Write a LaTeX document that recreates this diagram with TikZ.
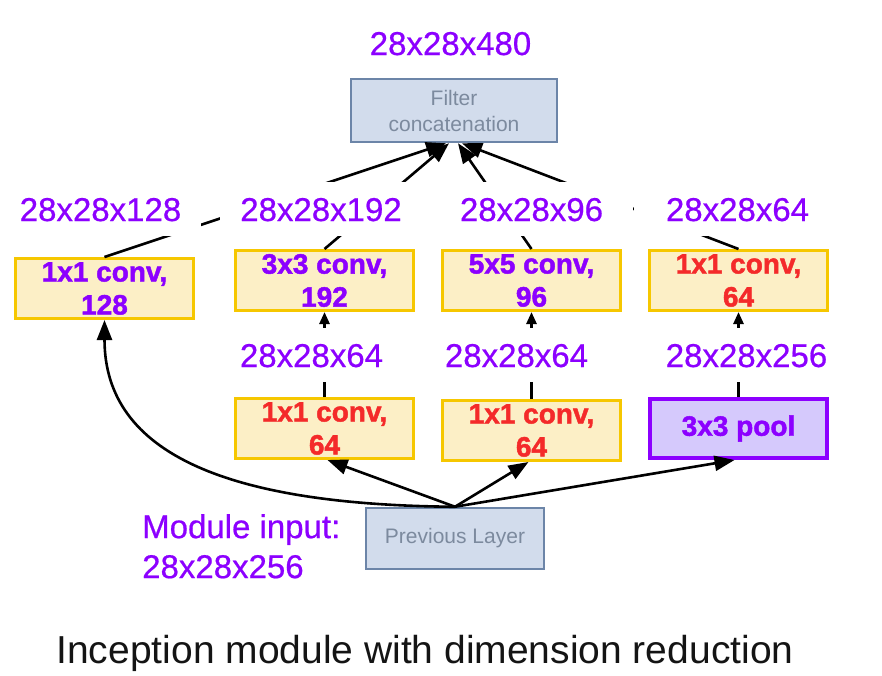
\documentclass[tikz,border=0pt]{standalone}
\usepackage{fontspec}
\setmainfont{Liberation Sans}
\newfontfamily\boxfont[BoldFeatures={FakeBold=1.6}]{Liberation Sans}
\newfontfamily\labfont[FakeBold=0.6]{Liberation Sans}
\usetikzlibrary{arrows.meta}
\definecolor{vio}{HTML}{8C00FF}
\definecolor{redt}{HTML}{F42A2A}
\definecolor{yfill}{HTML}{FCEFC6}
\definecolor{yborder}{HTML}{F6C700}
\definecolor{bfill}{HTML}{D2DCEC}
\definecolor{bborder}{HTML}{6C85A8}
\definecolor{btext}{HTML}{7C8A9E}
\definecolor{pfill}{HTML}{D5C9FC}
\definecolor{captc}{HTML}{141414}
\begin{document}
\begin{tikzpicture}[x=1pt,y=-1pt,
  ybox/.style={draw=yborder,fill=yfill,line width=3pt,minimum width=178pt,minimum height=60pt,
    inner sep=0pt,align=center,font=\boxfont\bfseries\fontsize{28}{33}\selectfont},
  bbox/.style={draw=bborder,fill=bfill,line width=2.5pt,inner sep=0pt,align=center,
    text=btext,font=\fontsize{21}{26}\selectfont},
  pbox/.style={draw=vio,fill=pfill,line width=4pt,minimum width=177pt,minimum height=59pt,
    inner sep=0pt,text=vio,font=\boxfont\bfseries\fontsize{28}{33}\selectfont},
  dim/.style={anchor=base,fill=white,text=vio,inner xsep=20pt,inner ysep=15pt,
    text height=24pt,text depth=0pt,font=\labfont\fontsize{33}{40}\selectfont},
  conn/.style={line width=2.6pt,-{Triangle[length=20pt,width=15pt]}},
  sconn/.style={line width=2.6pt,-{Triangle[length=12pt,width=10pt]}}]
\useasboundingbox (0,0) rectangle (882,675);
\fill[white] (0,0) rectangle (882,675);

% boxes
\node[bbox,minimum width=206pt,minimum height=63pt] (concat) at (454,110.5) {Filter\\concatenation};
\node[bbox,minimum width=178pt,minimum height=61pt] (prev) at (455,538.5) {Previous Layer};

\node[ybox,text=vio] (A) at (104.5,288.5) {1x1 conv,\\128};
\node[ybox,text=vio] (B) at (324.5,280.5) {3x3 conv,\\192};
\node[ybox,text=vio] (C) at (531.5,280.5) {5x5 conv,\\96};
\node[ybox,text=redt] (D) at (738.5,280.5) {1x1 conv,\\64};
\node[ybox,text=redt] (E) at (324.5,428.5) {1x1 conv,\\64};
\node[ybox,text=redt] (F) at (531.5,430.5) {1x1 conv,\\64};
\node[pbox] (G) at (738.5,428.5) {3x3 pool};

% connectors
\draw[conn] (A.north) -- ([xshift=-8pt]concat.south);
\draw[conn] (B.north) -- ([xshift=-5pt]concat.south);
\draw[conn] (C.north) -- ([xshift=4pt]concat.south);
\draw[conn] (D.north) -- ([xshift=8pt]concat.south);
\draw[sconn] (E.north) -- (B.south);
\draw[sconn] (F.north) -- (C.south);
\draw[sconn] (G.north) -- (D.south);
\draw[conn] (prev.north) .. controls (230,505) and (104.5,455) .. (A.south);
\draw[conn] (prev.north) -- ([xshift=3pt]E.south);
\draw[conn] (prev.north) -- ([xshift=-3pt]F.south);
\draw[conn] (prev.north) -- ([xshift=-4pt]G.south);

% dimension labels
\node[dim] (l480) at (450.5,55) {28x28x480};
\node[dim] (l128) at (100.5,221) {28x28x128};
\node[dim] (l192) at (321,221) {28x28x192};
\node[dim,inner xsep=30pt] (l96) at (531.5,221) {28x28x96};
\node[dim,inner xsep=32pt] (l64a) at (737.5,221) {28x28x64};
\node[dim] (l64b) at (311.5,367) {28x28x64};
\node[dim] (l64c) at (516.5,367) {28x28x64};
\node[dim] (l256) at (746.5,367) {28x28x256};

\node[anchor=north west,inner sep=0pt,align=left,text=vio,font=\labfont\fontsize{33}{40}\selectfont]
  (minput) at (142,514) {Module input:\\28x28x256};

\node[anchor=base,inner sep=0pt,text=captc,font=\fontsize{39}{46}\selectfont]
  (caption) at (425,663) {Inception module with dimension reduction};
\end{tikzpicture}
\end{document}
